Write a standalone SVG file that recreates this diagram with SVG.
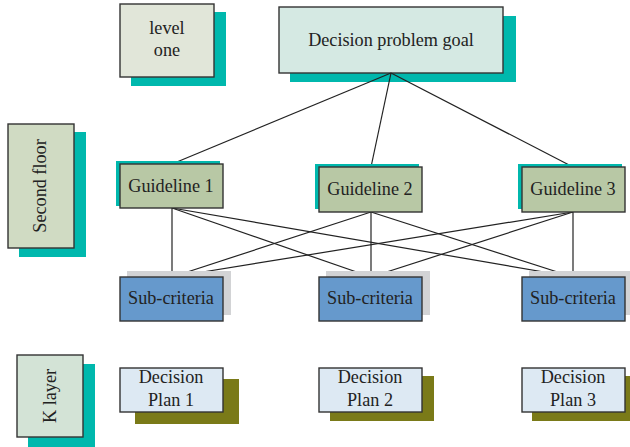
<svg xmlns="http://www.w3.org/2000/svg" width="630" height="447" viewBox="0 0 630 447">
<style>
.box{stroke:#333;stroke-width:1.4}
.t{font-family:"Liberation Serif","Times New Roman",serif;font-size:18.2px;fill:#222;text-anchor:middle}
.teal{fill:#00b8ad}
.olive{fill:#7a7a18}
.gray{fill:#d2d3d5}
.conn line{stroke:#222;stroke-width:1.2}
</style>
<rect width="630" height="447" fill="#fff"/>
<g id="level-one">
<rect class="teal" x="131" y="12" width="95" height="74"/>
<rect class="box" x="120" y="4" width="94" height="73" fill="#e1e6d9"/>
<text class="t" x="167" y="34">level</text>
<text class="t" x="167" y="56">one</text>
</g>
<g id="goal">
<rect class="teal" x="290" y="16" width="226" height="66"/>
<rect class="box" x="279" y="7" width="224" height="66" fill="#d5e9e3"/>
<text class="t" x="391" y="46">Decision problem goal</text>
</g>
<g id="second-floor">
<rect class="teal" x="19" y="132" width="67" height="125"/>
<rect class="box" x="8" y="124" width="66" height="124" fill="#d0dbc3"/>
<text class="t" transform="translate(46,186) rotate(-90)">Second floor</text>
</g>
<g id="k-layer">
<rect class="teal" x="28" y="364" width="67" height="83"/>
<rect class="box" x="17" y="355" width="66" height="82" fill="#d3e3d6"/>
<text class="t" transform="translate(56,396) rotate(-90)">K layer</text>
</g>
<g class="conn" id="connectors">
<line x1="391" y1="73" x2="172" y2="164"/>
<line x1="391" y1="73" x2="371" y2="167"/>
<line x1="391" y1="73" x2="573" y2="167"/>
<line x1="172" y1="208" x2="172" y2="277"/>
<line x1="172" y1="208" x2="371" y2="277"/>
<line x1="172" y1="208" x2="573" y2="277"/>
<line x1="371" y1="212" x2="172" y2="277"/>
<line x1="371" y1="212" x2="371" y2="277"/>
<line x1="371" y1="212" x2="573" y2="277"/>
<line x1="573" y1="212" x2="172" y2="277"/>
<line x1="573" y1="212" x2="371" y2="277"/>
<line x1="573" y1="212" x2="573" y2="277"/>
</g>
<g id="guideline-1">
<rect class="teal" x="116" y="161" width="104" height="45"/>
<rect class="box" x="120" y="164" width="103" height="44" fill="#b8c8a5"/>
<text class="t" x="171" y="192">Guideline 1</text>
</g>
<g id="guideline-2">
<rect class="teal" x="315" y="164" width="104" height="45"/>
<rect class="box" x="319" y="167" width="103" height="45" fill="#b8c8a5"/>
<text class="t" x="370" y="195">Guideline 2</text>
</g>
<g id="guideline-3">
<rect class="teal" x="518" y="164" width="104" height="45"/>
<rect class="box" x="522" y="167" width="103" height="45" fill="#b8c8a5"/>
<text class="t" x="573" y="195">Guideline 3</text>
</g>
<g id="sub-criteria-1">
<rect class="gray" x="127" y="271" width="104" height="44"/>
<rect class="box" x="120" y="277" width="103" height="44" fill="#6699cc"/>
<text class="t" x="171" y="304">Sub-criteria</text>
</g>
<g id="sub-criteria-2">
<rect class="gray" x="326" y="271" width="104" height="44"/>
<rect class="box" x="319" y="277" width="103" height="44" fill="#6699cc"/>
<text class="t" x="370" y="304">Sub-criteria</text>
</g>
<g id="sub-criteria-3">
<rect class="gray" x="529" y="271" width="104" height="44"/>
<rect class="box" x="522" y="277" width="103" height="44" fill="#6699cc"/>
<text class="t" x="573" y="304">Sub-criteria</text>
</g>
<g id="plan-1">
<rect class="olive" x="135" y="379" width="104" height="45"/>
<rect class="box" x="120" y="368" width="103" height="44" fill="#dde9f3"/>
<text class="t" x="171" y="383">Decision</text>
<text class="t" x="171" y="406">Plan 1</text>
</g>
<g id="plan-2">
<rect class="olive" x="330" y="376" width="104" height="45"/>
<rect class="box" x="319" y="368" width="103" height="44" fill="#dde9f3"/>
<text class="t" x="370" y="383">Decision</text>
<text class="t" x="370" y="406">Plan 2</text>
</g>
<g id="plan-3">
<rect class="olive" x="532" y="376" width="104" height="45"/>
<rect class="box" x="522" y="368" width="103" height="44" fill="#dde9f3"/>
<text class="t" x="573" y="383">Decision</text>
<text class="t" x="573" y="406">Plan 3</text>
</g>
</svg>
